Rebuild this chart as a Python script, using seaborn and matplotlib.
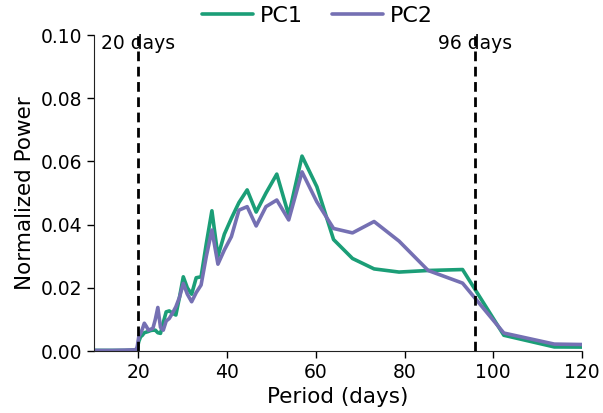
import numpy as np
import pandas as pd
import seaborn as sns
import matplotlib
matplotlib.use('Agg')
import matplotlib.pyplot as plt

# periods (days) of the spectral bins
period = [10.24, 14.0, 17.0, 19.32, 19.69, 20.08, 20.48, 20.90, 21.33, 21.79,
          22.26, 22.76, 23.27, 23.81, 24.38, 24.98, 25.60, 26.26, 26.95, 27.68,
          28.44, 29.26, 30.12, 31.03, 32.00, 33.03, 34.13, 35.31, 36.57, 37.93,
          39.38, 40.96, 42.67, 44.52, 46.55, 48.76, 51.20, 53.89, 56.89, 60.24,
          64.00, 68.27, 73.14, 78.77, 85.33, 93.09, 102.40, 113.78, 128.00]

pc1 = [0.0002, 0.0002, 0.0002, 0.0003, 0.0005, 0.0030, 0.0045, 0.0050, 0.0058, 0.0060,
       0.0062, 0.0065, 0.0066, 0.0066, 0.0058, 0.0056, 0.0090, 0.0124, 0.0127, 0.0120,
       0.0114, 0.0170, 0.0235, 0.0200, 0.0180, 0.0232, 0.0235, 0.0340, 0.0444, 0.0300,
       0.0370, 0.0420, 0.0470, 0.0510, 0.0440, 0.0500, 0.0560, 0.0430, 0.0617, 0.0520,
       0.0353, 0.0293, 0.0260, 0.0250, 0.0255, 0.0258, 0.0050, 0.0013, 0.0012]

pc2 = [0.0002, 0.0002, 0.0003, 0.0004, 0.0010, 0.0045, 0.0056, 0.0070, 0.0088, 0.0078,
       0.0066, 0.0069, 0.0072, 0.0100, 0.0138, 0.0075, 0.0066, 0.0095, 0.0103, 0.0120,
       0.0140, 0.0170, 0.0214, 0.0180, 0.0156, 0.0185, 0.0209, 0.0300, 0.0383, 0.0275,
       0.0320, 0.0362, 0.0446, 0.0457, 0.0396, 0.0457, 0.0478, 0.0415, 0.0567, 0.0472,
       0.0388, 0.0374, 0.0410, 0.0348, 0.0255, 0.0215, 0.0057, 0.0022, 0.0019]

cutoffs = [20, 96]
cutoff_labels = ['20 days', '96 days']

df = pd.DataFrame({'period': period * 2,
                   'power': pc1 + pc2,
                   'component': ['PC1'] * len(pc1) + ['PC2'] * len(pc2)})

sns.set_style('ticks')
plt.rcParams['font.family'] = ['DejaVu Sans']
plt.rcParams.update({'text.color': 'black', 'axes.labelcolor': 'black',
                     'xtick.color': 'black', 'ytick.color': 'black',
                     'axes.edgecolor': '#222222'})

fig = plt.figure(figsize=(6.03, 4.13), dpi=100)
ax = fig.add_axes([0.156, 0.150, 0.809, 0.765])

sns.lineplot(data=df, x='period', y='power', hue='component',
             palette=['#1b9e77', '#7570b3'], linewidth=2.6, ax=ax)

for c, lab in zip(cutoffs, cutoff_labels):
    ax.axvline(c, color='black', linestyle='--', linewidth=2, dashes=(3.5, 2))
    ax.text(c, 0.0972, lab, ha='center', va='center', fontsize=13.5)

ax.set_xlim(10, 120)
ax.set_ylim(0, 0.1)
ax.set_xticks([20, 40, 60, 80, 100, 120])
ax.set_yticks([0, 0.02, 0.04, 0.06, 0.08, 0.1])
ax.set_yticklabels(['0.00', '0.02', '0.04', '0.06', '0.08', '0.10'])
ax.tick_params(labelsize=13.5, length=5, width=1)
ax.set_xlabel('Period (days)', fontsize=15.5)
ax.set_ylabel('Normalized Power', fontsize=15.5)
sns.despine(ax=ax)

ax.legend(loc='center', bbox_to_anchor=(0.458, 1.06), ncol=2,
          frameon=False, fontsize=16, handlelength=2.3, handletextpad=0.3,
          columnspacing=1.3)

fig.savefig('out.png', dpi=100)
